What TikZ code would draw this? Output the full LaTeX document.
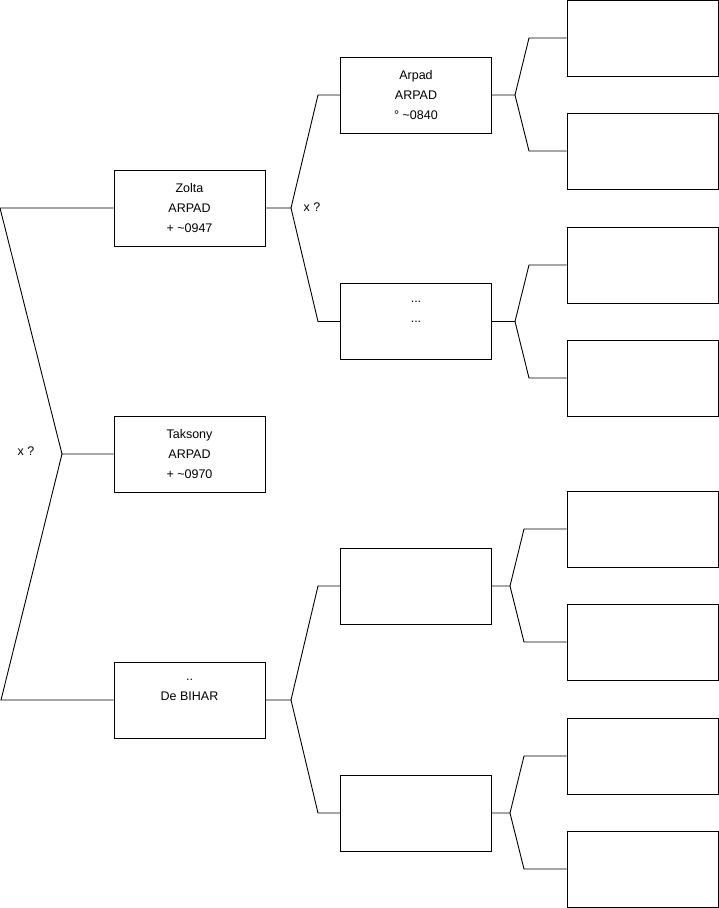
\documentclass[tikz,border=0pt]{standalone}
\usepackage{fontspec}
\setmainfont{Liberation Sans}
\begin{document}
\begin{tikzpicture}[x=1pt,y=-1pt,
  person/.style={draw, line width=0.9pt, minimum width=151pt, minimum height=76pt, inner sep=0pt, align=center, font=\fontsize{12.5}{20}\selectfont},
  conn/.style={line width=0.9pt},
  lbl/.style={font=\fontsize{12.5}{15}\selectfont, inner sep=0pt}]
\useasboundingbox (0,0) rectangle (719,908);
% generation 1
\node[person] (z) at (189.5,208) {Zolta\\ARPAD\\+ \textasciitilde0947};
\node[person] (t) at (189.5,454) {Taksony\\ARPAD\\+ \textasciitilde0970};
\node[person] (b) at (189.5,700) {..\\De BIHAR\\\mbox{}};
% generation 2
\node[person] (a) at (416,95) {Arpad\\ARPAD\\\textdegree{} \textasciitilde0840};
\node[person] (d) at (416,321.5) {...\\...\\\mbox{}};
\node[person] (c3) at (416,586) {};
\node[person] (c4) at (416,813) {};
% generation 3
\foreach \i/\yy in {1/38,2/151,3/265,4/378,5/529,6/642,7/756,8/869}
  \node[person] (g\i) at (642.5,\yy) {};
% joints
\coordinate (l1) at (0,208);
\coordinate (l2) at (62,454);
\coordinate (l3) at (1,700);
\coordinate (jz) at (291,208);
\coordinate (jza) at (318,95);
\coordinate (jzd) at (318,321.5);
\coordinate (jb) at (291,700);
\coordinate (jb3) at (318,586);
\coordinate (jb4) at (318,813);
\coordinate (ja) at (515,95);
\coordinate (ja1) at (529,38);
\coordinate (ja2) at (529,151);
\coordinate (jd) at (515,321.5);
\coordinate (jd1) at (529,265);
\coordinate (jd2) at (529,378);
\coordinate (j3) at (510,586);
\coordinate (j31) at (524,529);
\coordinate (j32) at (524,642);
\coordinate (j4) at (510,813);
\coordinate (j41) at (524,756);
\coordinate (j42) at (524,869);
% connectors
\draw[conn] (z.west) -- (l1) -- (l2) -- (t.west);
\draw[conn] (l2) -- (l3) -- (b.west);
\draw[conn] (z.east) -- (jz) -- (jza) -- (a.west);
\draw[conn] (jz) -- (jzd) -- (d.west);
\draw[conn] (b.east) -- (jb) -- (jb3) -- (c3.west);
\draw[conn] (jb) -- (jb4) -- (c4.west);
\draw[conn] (a.east) -- (ja) -- (ja1) -- (g1.west);
\draw[conn] (ja) -- (ja2) -- (g2.west);
\draw[conn] (d.east) -- (jd) -- (jd1) -- (g3.west);
\draw[conn] (jd) -- (jd2) -- (g4.west);
\draw[conn] (c3.east) -- (j3) -- (j31) -- (g5.west);
\draw[conn] (j3) -- (j32) -- (g6.west);
\draw[conn] (c4.east) -- (j4) -- (j41) -- (g7.west);
\draw[conn] (j4) -- (j42) -- (g8.west);
% labels
\node[lbl] (x1) at (26,451) {x ?};
\node[lbl] (x2) at (312,207) {x ?};
\end{tikzpicture}
\end{document}
